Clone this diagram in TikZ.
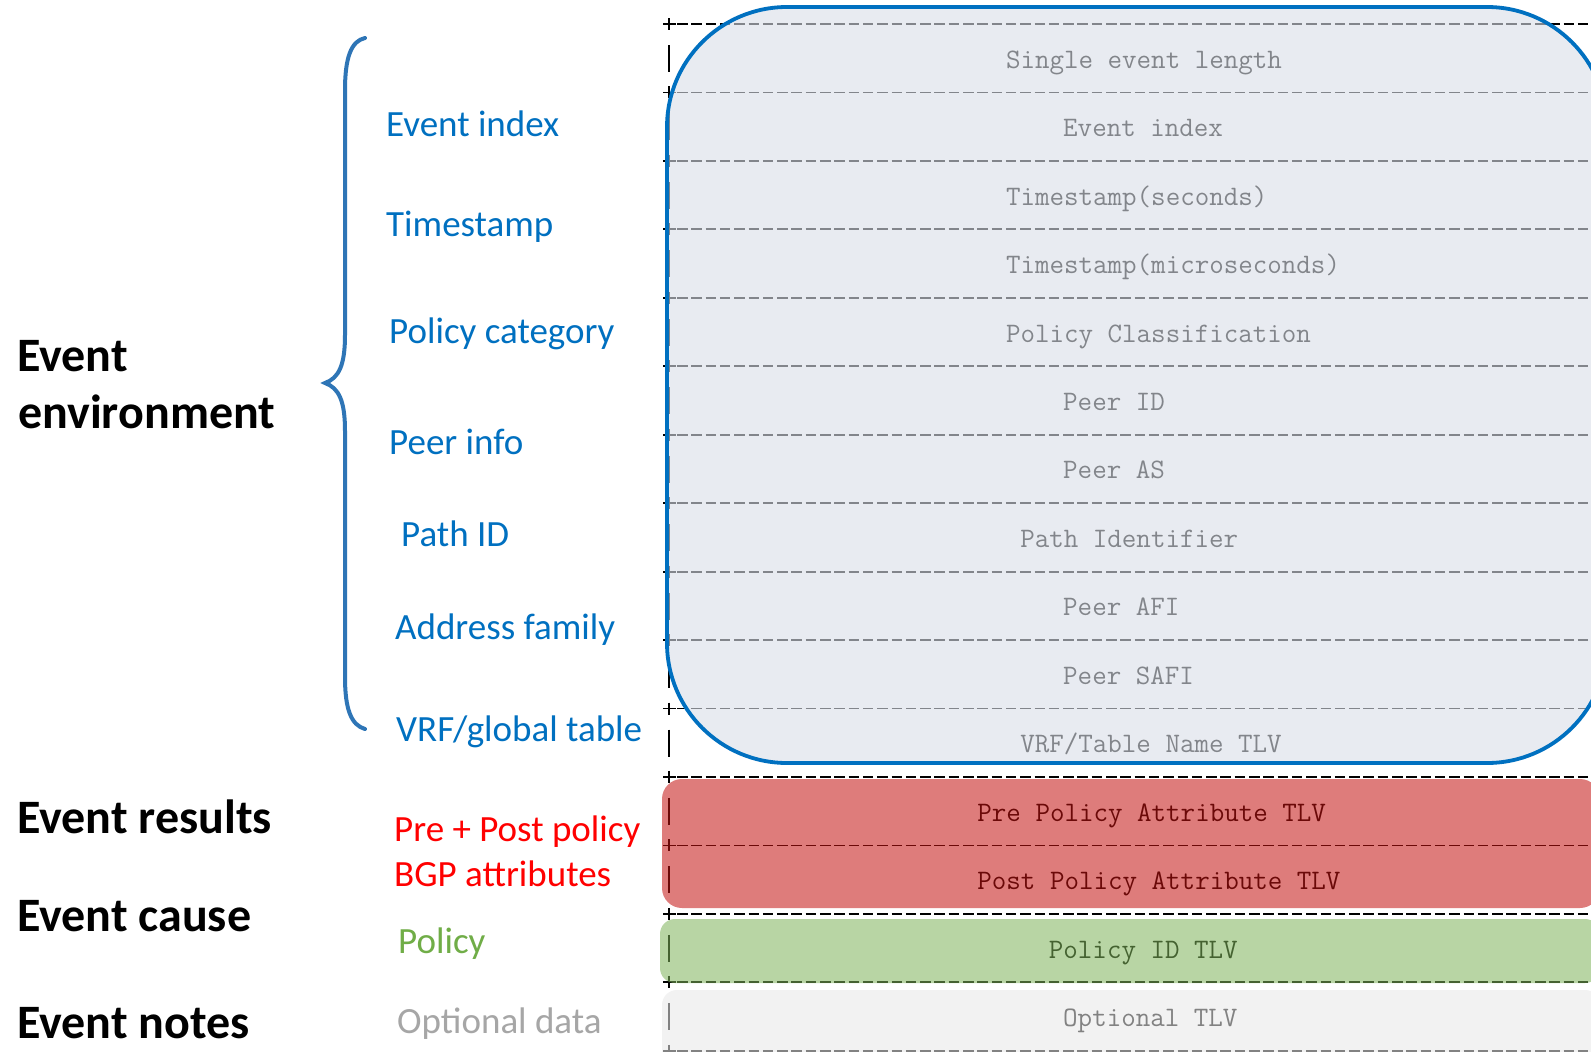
\documentclass[tikz,border=0pt]{standalone}
\usepackage{fontspec}
\setmainfont{Carlito}
\definecolor{lblblue}{HTML}{0070C0}
\definecolor{bracecol}{HTML}{2E75B6}
\definecolor{lblred}{HTML}{FF0000}
\definecolor{lblgreen}{HTML}{70AD47}
\definecolor{lblgray}{HTML}{A6A6A6}
\definecolor{ovblue}{RGB}{218,223,232}
\definecolor{ovred}{RGB}{195,17,15}
\definecolor{ovgreen}{RGB}{126,180,90}
\definecolor{ovgray}{RGB}{232,232,232}
\definecolor{boxblue}{HTML}{0070C0}
\begin{document}
\begin{tikzpicture}[x=1pt,y=-1pt,
  tabtext/.style={anchor=base west, inner sep=0pt, text=black, font=\ttfamily\fontsize{28.2}{30}\selectfont},
  lbl/.style={anchor=base west, inner sep=0pt, font=\fontsize{37}{44}\selectfont},
  head/.style={anchor=base west, inner sep=0pt, text=black, font=\bfseries\fontsize{48}{58}\selectfont},
  rowline/.style={line width=1.8pt, dash pattern=on 10.5pt off 3.8pt},
  tick/.style={line width=1.8pt},
]
\useasboundingbox (0,0) rectangle (1591,1052);
\fill[white] (0,0) rectangle (1591,1052);

% ---- ASCII table skeleton ----
\foreach \k in {0,...,15}{
  \pgfmathsetmacro\yy{24+68.45*\k}
  \draw[tick] (663,\yy) -- (676,\yy) (669,\yy-6) -- (669,\yy+6);
  \draw[rowline] (677,\yy) -- (1600,\yy);
}
\foreach \k in {0,...,14}{
  \pgfmathsetmacro\yy{24+68.45*\k}
  \draw[tick] (669,\yy+21) -- (669,\yy+48);
  \draw[tick] (1591.5,\yy+21) -- (1591.5,\yy+48);
}

% ---- table texts ----
\node[tabtext] (t0)  at (1005.8,68.2)   {Single event length};
\node[tabtext] (t1)  at (1063,136.65)   {Event index};
\node[tabtext] (t2)  at (1005.8,205.1)  {Timestamp(seconds)};
\node[tabtext] (t3)  at (1005.8,273.55) {Timestamp(microseconds)};
\node[tabtext] (t4)  at (1005.8,342)    {Policy Classification};
\node[tabtext] (t5)  at (1063,410.45)   {Peer ID};
\node[tabtext] (t6)  at (1063,478.9)    {Peer AS};
\node[tabtext] (t7)  at (1020.1,547.35) {Path Identifier};
\node[tabtext] (t8)  at (1063,615.8)    {Peer AFI};
\node[tabtext] (t9)  at (1063,684.25)   {Peer SAFI};
\node[tabtext] (t10) at (1020.1,752.7)  {VRF/Table Name TLV};
\node[tabtext] (t11) at (977.2,821.15)  {Pre Policy Attribute TLV};
\node[tabtext] (t12) at (977.2,889.6)   {Post Policy Attribute TLV};
\node[tabtext] (t13) at (1048.7,958.05) {Policy ID TLV};
\node[tabtext] (t14) at (1063,1026.5)   {Optional TLV};

% ---- translucent overlays ----
\path[draw=boxblue, fill=ovblue, fill opacity=0.6, line width=3.8pt, rounded corners=120pt]
  (667,7) rectangle (1607,763);
\fill[ovred, fill opacity=0.55, rounded corners=20pt] (662,779) rectangle (1600,908);
\fill[ovgreen, fill opacity=0.55, rounded corners=15pt] (660,919) rectangle (1600,983);
\fill[ovgray, fill opacity=0.56, rounded corners=15pt] (662,990) rectangle (1600,1068);

% ---- brace ----
\draw[bracecol, line width=4pt, line cap=round]
  (365,38) .. controls (351,41) and (345,58) .. (345,90)
  -- (345,335) .. controls (345,365) and (339,378) .. (325,383)
  .. controls (339,388) and (345,401) .. (345,431)
  -- (345,677) .. controls (345,709) and (351,725) .. (365,729);

% ---- blue labels ----
\node[lbl, text=lblblue] (l1) at (386,136.5) {Event index};
\node[lbl, text=lblblue] (l2) at (386,236)   {Timestamp};
\node[lbl, text=lblblue] (l3) at (389,343.5) {Policy category};
\node[lbl, text=lblblue] (l4) at (389,454)   {Peer info};
\node[lbl, text=lblblue] (l5) at (401,546.4) {Path ID};
\node[lbl, text=lblblue] (l6) at (395,639.8) {Address family};
\node[lbl, text=lblblue] (l7) at (396,741.3) {VRF/global table};
\node[lbl, text=lblred]  (l8) at (394,841.7) {Pre + Post policy};
\node[lbl, text=lblred]  (l9) at (394,886.4) {BGP attributes};
\node[lbl, text=lblgreen] (l10) at (398,953.3) {Policy};
\node[lbl, text=lblgray] (l11) at (397,1033.5) {Optional data};

% ---- headings ----
\node[head] (h1) at (17,371)    {Event};
\node[head] (h2) at (18,428)    {environment};
\node[head] (h3) at (17,833)    {Event results};
\node[head] (h4) at (17,931)    {Event cause};
\node[head] (h5) at (17,1038)   {Event notes};
\end{tikzpicture}
\end{document}
